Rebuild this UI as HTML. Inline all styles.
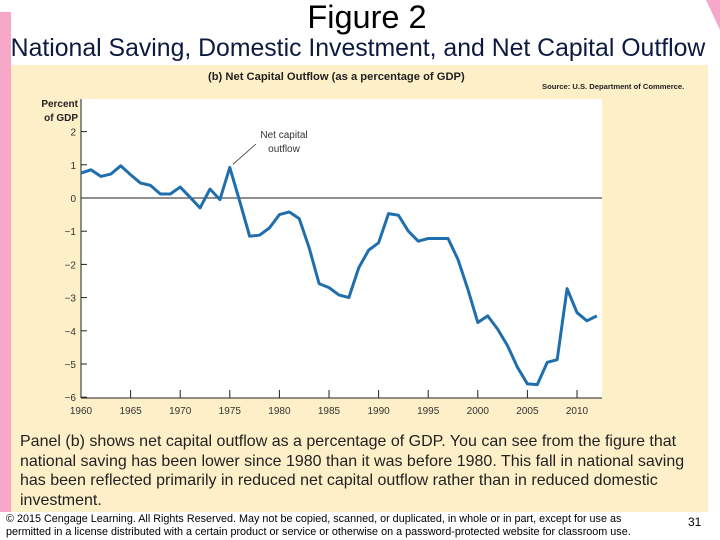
<!DOCTYPE html>
<html><head><meta charset="utf-8">
<style>
body{margin:0;width:720px;height:540px;background:#fff;position:relative;overflow:hidden;font-family:"Liberation Sans",sans-serif;}
.abs{position:absolute;}
</style></head>
<body>
<div class="abs" style="left:0;top:12px;width:11px;height:500px;background:#f7a8c8;"></div>
<div class="abs" style="left:11px;top:65px;width:697px;height:447px;background:#fdefc8;"></div>
<svg class="abs" style="left:0;top:0" width="720" height="540">
<polygon points="706,0 720,0 720,30" fill="#f7a8c8"/>
</svg>
<div class="abs" style="left:0;top:-1px;width:734px;text-align:center;font-size:32.5px;color:#000;">Figure 2</div>
<div class="abs" style="left:0;top:35px;width:716px;text-align:center;font-size:24.8px;color:#0d1a40;white-space:nowrap;">National Saving, Domestic Investment, and Net Capital Outflow</div>
<svg class="abs" id="chart" style="left:0;top:0" width="720" height="540"></svg>
<div class="abs" style="left:20px;top:432px;width:700px;font-size:16px;line-height:19.6px;color:#222;white-space:nowrap;">Panel (b) shows net capital outflow as a percentage of GDP. You can see from the figure that<br>national saving has been lower since 1980 than it was before 1980. This fall in national saving<br>has been reflected primarily in reduced net capital outflow rather than in reduced domestic<br>investment.</div>
<div class="abs" style="left:6px;top:513px;width:680px;font-size:10.8px;line-height:13px;color:#000;white-space:nowrap;">© 2015 Cengage Learning. All Rights Reserved. May not be copied, scanned, or duplicated, in whole or in part, except for use as<br>permitted in a license distributed with a certain product or service or otherwise on a password-protected website for classroom use.</div>
<div class="abs" style="left:688px;top:515px;font-size:12px;">31</div>
<script>
const years=[1960,1961,1962,1963,1964,1965,1966,1967,1968,1969,1970,1971,1972,1973,1974,1975,1976,1977,1978,1979,1980,1981,1982,1983,1984,1985,1986,1987,1988,1989,1990,1991,1992,1993,1994,1995,1996,1997,1998,1999,2000,2001,2002,2003,2004,2005,2006,2007,2008,2009,2010,2011,2012];
const values=[0.75,0.85,0.65,0.72,0.97,0.7,0.45,0.38,0.12,0.12,0.33,0.02,-0.3,0.27,-0.05,0.92,-0.1,-1.15,-1.12,-0.9,-0.5,-0.42,-0.62,-1.5,-2.58,-2.7,-2.92,-3.0,-2.1,-1.57,-1.35,-0.47,-0.52,-1.0,-1.3,-1.22,-1.22,-1.22,-1.85,-2.75,-3.75,-3.55,-3.95,-4.45,-5.1,-5.6,-5.62,-4.95,-4.87,-2.73,-3.45,-3.7,-3.55];
const xTicks=[1960,1965,1970,1975,1980,1985,1990,1995,2000,2005,2010];
const yTicks=[2,1,0,-1,-2,-3,-4,-5,-6];
const NS="http://www.w3.org/2000/svg";
const svg=document.getElementById('chart');
const X0=81,X1=602,Y0=99,Y1=398;
const xs=y=>81+(y-1960)*9.92;
const ys=v=>198-v*33.2;
function mk(t,a,txt){const e=document.createElementNS(NS,t);for(const k in a)e.setAttribute(k,a[k]);if(txt!==undefined)e.textContent=txt;svg.appendChild(e);return e;}
let e;
e=mk('rect',{x:X0,y:Y0,width:X1-X0,height:Y1-Y0,fill:'#fff'});


e=mk('text',{x:208,y:80,'font-size':11.2,'font-weight':'bold',fill:'#222'},'(b) Net Capital Outflow (as a percentage of GDP)');


e=mk('text',{x:542,y:89,'font-size':7.6,'font-weight':'bold',fill:'#222'},'Source: U.S. Department of Commerce.');


e=mk('text',{x:78,y:107,'font-size':10,'font-weight':'bold','text-anchor':'end',fill:'#222'},'Percent');


e=mk('text',{x:78,y:121,'font-size':10,'font-weight':'bold','text-anchor':'end',fill:'#222'},'of GDP');


e=mk('line',{x1:X0,y1:Y0,x2:X0,y2:Y1,stroke:'#222','stroke-width':1});


e=mk('line',{x1:X0,y1:Y1,x2:X1,y2:Y1,stroke:'#222','stroke-width':1});


e=mk('line',{x1:X0,y1:ys(0),x2:X1,y2:ys(0),stroke:'#222','stroke-width':1});


yTicks.forEach(v=>{
 e=mk('line',{x1:X0,y1:ys(v),x2:X0+6,y2:ys(v),stroke:'#222'});
 
 
 e=mk('text',{x:X0-5,y:ys(v)+4,'font-size':10,'text-anchor':'end',fill:'#333'},v<0?'\u2212'+(-v):String(v));
 
 
});
xTicks.forEach(t=>{
 e=mk('line',{x1:xs(t),y1:Y1,x2:xs(t),y2:Y1-8,stroke:'#222'});
 
 
 e=mk('text',{x:xs(t),y:414,'font-size':10,'text-anchor':'middle',fill:'#333'},String(t));
 
 
});
e=mk('polyline',{points:years.map((y,i)=>xs(y)+','+ys(values[i])).join(' '),fill:'none',stroke:'#1f6fae','stroke-width':3,'stroke-linejoin':'round'});


e=mk('line',{x1:xs(1975)+3,y1:ys(values[15])-3,x2:256,y2:144,stroke:'#333','stroke-width':0.8});


e=mk('text',{x:284,y:138,'font-size':10,'text-anchor':'middle',fill:'#333'},'Net capital');


e=mk('text',{x:284,y:152,'font-size':10,'text-anchor':'middle',fill:'#333'},'outflow');


</script>
</body></html>
